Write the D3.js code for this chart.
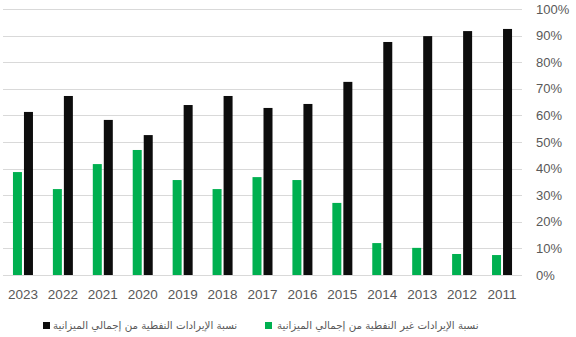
<!DOCTYPE html>
<html><head><meta charset="utf-8">
<script src="https://cdn.jsdelivr.net/npm/d3@7"></script>
<style>body{margin:0;background:#fff}svg{display:block}</style>
</head><body>
<script>
const years = ["2023","2022","2021","2020","2019","2018","2017","2016","2015","2014","2013","2012","2011"];
const nonOil = [38.7,32.3,41.7,47.0,35.7,32.3,36.8,35.7,27.1,12.0,10.2,7.9,7.5];
const oil = [61.3,67.3,58.3,52.6,63.9,67.3,62.8,64.3,72.6,87.6,89.8,91.7,92.5];
const yTicks = [0,10,20,30,40,50,60,70,80,90,100];
const seriesNames = ["نسبة الإيرادات غير النفطية من إجمالي الميزانية","نسبة الإيرادات النفطية من إجمالي الميزانية"];
const colors = ["#00b050","#0d0d0d"];

const W=576,H=337;
const svg=d3.select("body").append("svg").attr("width",W).attr("height",H);
const x=d3.scaleBand().domain(years).range([3,522]).paddingInner(0).paddingOuter(0);
const y=d3.scaleLinear().domain([0,100]).range([275,9]);

svg.append("g").selectAll("line").data(yTicks).join("line")
 .attr("x1",3).attr("x2",522).attr("y1",d=>Math.round(y(d))+0.5).attr("y2",d=>Math.round(y(d))+0.5)
 .attr("stroke","#d9d9d9").attr("stroke-width",1);

svg.append("g").selectAll("text").data(yTicks).join("text")
 .attr("x",536).attr("y",d=>y(d)+4.5).text(d=>d+"%")
 .attr("font-family","Liberation Sans, Arial, sans-serif").attr("font-size",13).attr("fill","#595959");

const bw=9;
const series=[nonOil,oil];
series.forEach((vals,si)=>{
  svg.append("g").selectAll("rect").data(years).join("rect")
   .attr("x",(d)=>x(d)+x.bandwidth()/2 - 10 + si*11)
   .attr("width",bw)
   .attr("y",(d,i)=>y(vals[i]))
   .attr("height",(d,i)=>y(0)-y(vals[i]))
   .attr("fill",colors[si]);
});

svg.append("g").selectAll("text").data(years).join("text")
 .attr("x",d=>x(d)+x.bandwidth()/2).attr("y",299).attr("text-anchor","middle").text(d=>d)
 .attr("font-family","Liberation Sans, Arial, sans-serif").attr("font-size",13.5).attr("fill","#595959");

// legend (RTL)
const leg=[{sq:265,tx:482,w:205,i:0},{sq:43,tx:237,w:184,i:1}];
leg.forEach(l=>{
  svg.append("rect").attr("x",l.sq).attr("y",322).attr("width",7).attr("height",7).attr("fill",colors[l.i]);
  svg.append("text").attr("x",l.tx - l.w).attr("y",329).attr("text-anchor","start")
   .attr("direction","ltr")
   .attr("font-family","DejaVu Sans, Arial, sans-serif").attr("font-size",10.3).attr("fill","#595959")
   .text(seriesNames[l.i]);
});
</script>
</body></html>
